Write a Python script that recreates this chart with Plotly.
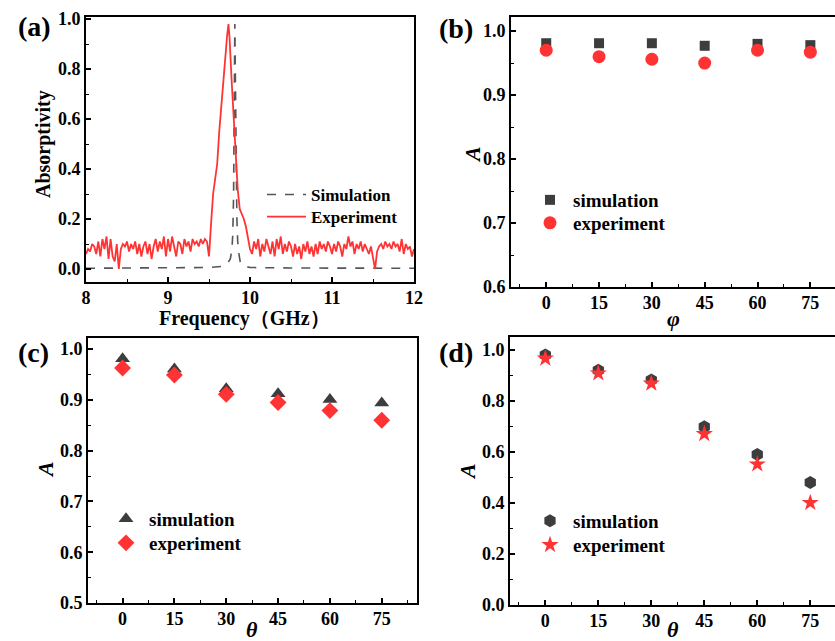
import numpy as np
import plotly.graph_objects as go

W, H = 835, 641
FONT = "Liberation Serif"
GRAY = "#3d3d3d"
RED = "#ff3333"

# ---------------- (a) spectra ----------------
sim_freq = [8.0, 9.0, 9.5, 9.65, 9.72, 9.76, 9.78, 9.79, 9.80, 9.805, 9.81, 9.815,
            9.82, 9.825, 9.83, 9.84, 9.85, 9.86, 9.88, 9.92, 10.0, 10.5, 12.0]
sim_abs = [0.003, 0.004, 0.006, 0.01, 0.02, 0.04, 0.08, 0.14, 0.30, 0.55, 0.90, 0.98,
           0.82, 0.58, 0.40, 0.20, 0.11, 0.07, 0.03, 0.012, 0.006, 0.004, 0.003]

exp_abs_low = [0.06, 0.08, 0.07, 0.10, 0.09, 0.06, 0.11, 0.05, 0.12, 0.08,
               0.13, 0.04, 0.12, 0.05, 0.03, 0.10, 0.00, 0.08, 0.10, 0.09,
               0.11, 0.07, 0.10, 0.08, 0.11, 0.06, 0.10, 0.05, 0.09, 0.11,
               0.06, 0.10, 0.04, 0.09, 0.12, 0.07, 0.11, 0.08, 0.13, 0.05,
               0.12, 0.07, 0.13, 0.09, 0.05, 0.11, 0.10, 0.06, 0.12, 0.09,
               0.11, 0.07, 0.12, 0.10, 0.11, 0.09, 0.12, 0.10, 0.12, 0.11,
               0.05]
exp_freq_peak = [9.525, 9.55, 9.575, 9.60, 9.625, 9.65, 9.675, 9.70, 9.72, 9.737,
                 9.75, 9.775, 9.80, 9.825, 9.85, 9.875, 9.90, 9.925, 9.95, 9.975,
                 10.0, 10.025]
exp_abs_peak = [0.18, 0.30, 0.36, 0.42, 0.55, 0.66, 0.76, 0.86, 0.93, 0.98,
                0.93, 0.76, 0.60, 0.46, 0.32, 0.24, 0.22, 0.20, 0.17, 0.12,
                0.08, 0.06]
exp_abs_high = [0.11, 0.08, 0.12, 0.05, 0.10, 0.07, 0.12, 0.09, 0.06, 0.11,
                0.05, 0.12, 0.08, 0.13, 0.06, 0.10, 0.07, 0.11, 0.09, 0.05,
                0.10, 0.06, 0.09, 0.04, 0.10, 0.07, 0.11, 0.06, 0.09, 0.05,
                0.10, 0.06, 0.11, 0.08, 0.10, 0.07, 0.11, 0.09,
                0.06, 0.10, 0.07, 0.11, 0.09, 0.05, 0.10, 0.08, 0.13, 0.09,
                0.11, 0.06, 0.10, 0.08, 0.11, 0.07, 0.10, 0.08, 0.06, 0.09,
                0.04, 0.00, 0.07, 0.09, 0.10, 0.08, 0.11, 0.09, 0.10, 0.08,
                0.11, 0.09, 0.10, 0.07, 0.12, 0.06, 0.10, 0.08, 0.09, 0.05,
                0.08]
freq_low = np.round(8.0 + 0.025 * np.arange(len(exp_abs_low)), 3)
freq_high = np.round(10.05 + 0.025 * np.arange(len(exp_abs_high)), 3)
exp_freq = list(freq_low) + exp_freq_peak + list(freq_high)
exp_abs = exp_abs_low + exp_abs_peak + exp_abs_high

# ---------------- (b)(c)(d) angles ----------------
angles = [0, 15, 30, 45, 60, 75]
angle_ticks = ["0", "15", "30", "45", "60", "75"]
b_sim = [0.981, 0.981, 0.981, 0.977, 0.980, 0.978]
b_exp = [0.970, 0.960, 0.956, 0.950, 0.970, 0.967]
c_sim = [0.981, 0.961, 0.922, 0.912, 0.901, 0.894]
c_exp = [0.963, 0.949, 0.911, 0.895, 0.879, 0.860]
d_sim = [0.980, 0.921, 0.882, 0.699, 0.590, 0.480]
d_exp = [0.967, 0.909, 0.869, 0.671, 0.552, 0.401]


def xd(a, b):
    return [a / W, min(b / W, 1.0)]


def yd(top, bottom):
    return [1 - bottom / H, 1 - top / H]


fig = go.Figure()

fig.add_trace(go.Scatter(x=sim_freq, y=sim_abs, mode="lines", name="Simulation",
                         line=dict(color="#555555", width=1.6, dash="dash"),
                         xaxis="x", yaxis="y", legend="legend"))
fig.add_trace(go.Scatter(x=exp_freq, y=exp_abs, mode="lines", name="Experiment",
                         line=dict(color=RED, width=1.8),
                         xaxis="x", yaxis="y", legend="legend2"))

fig.add_trace(go.Scatter(x=angles, y=b_sim, mode="markers", name="simulation",
                         marker=dict(symbol="square", size=10, color=GRAY),
                         xaxis="x2", yaxis="y2", legend="legend3"))
fig.add_trace(go.Scatter(x=angles, y=b_exp, mode="markers", name="experiment",
                         marker=dict(symbol="circle", size=13, color=RED),
                         xaxis="x2", yaxis="y2", legend="legend4"))

fig.add_trace(go.Scatter(x=angles, y=c_sim, mode="markers", name="simulation",
                         marker=dict(symbol="triangle-up", size=13, color=GRAY),
                         xaxis="x3", yaxis="y3", legend="legend5"))
fig.add_trace(go.Scatter(x=angles, y=c_exp, mode="markers", name="experiment",
                         marker=dict(symbol="diamond", size=13, color=RED),
                         xaxis="x3", yaxis="y3", legend="legend6"))

fig.add_trace(go.Scatter(x=angles, y=d_sim, mode="markers", name="simulation",
                         marker=dict(symbol="hexagon", size=13, color=GRAY),
                         xaxis="x4", yaxis="y4", legend="legend7"))
fig.add_trace(go.Scatter(x=angles, y=d_exp, mode="markers", name="experiment",
                         marker=dict(symbol="star", size=13, color=RED),
                         xaxis="x4", yaxis="y4", legend="legend8"))

tickfont = dict(family=FONT, size=18, color="black", weight="bold")


def xaxis(domain, rng, anchor, dtick, minor, tickvals=None, ticktext=None):
    d = dict(domain=domain, range=rng, anchor=anchor, showline=True, linecolor="black",
             linewidth=2, mirror=True, ticks="inside", ticklen=5, tickwidth=1.5,
             tickcolor="black", showgrid=False, zeroline=False, tickfont=tickfont,
             automargin=False, ticklabelstandoff=-2,
             minor=dict(ticks="inside", ticklen=3, dtick=minor, tickcolor="black",
                        tickwidth=1.2, showgrid=False))
    if tickvals is not None:
        d.update(tickmode="array", tickvals=tickvals, ticktext=ticktext)
        d["minor"].update(tick0=0)
    else:
        d.update(dtick=dtick, tick0=0)
    return d


def yaxis(domain, rng, anchor, dtick, minor, mirror=True):
    return dict(domain=domain, range=rng, anchor=anchor, showline=True, linecolor="black",
                linewidth=2, mirror=mirror, ticks="inside", ticklen=5, tickwidth=1.5,
                tickcolor="black", showgrid=False, zeroline=False, tickfont=tickfont,
                dtick=dtick, tick0=0, tickformat=".1f", automargin=False,
                minor=dict(ticks="inside", ticklen=3, dtick=minor, tickcolor="black",
                           tickwidth=1.2, showgrid=False))


fig.update_layout(
    template="none",
    width=W, height=H,
    margin=dict(l=0, r=0, t=0, b=0, pad=0, autoexpand=False),
    paper_bgcolor="white", plot_bgcolor="white",
    font=dict(family=FONT, color="black"),
    xaxis=xaxis(xd(86, 414), [8, 12], "y", 1, 0.5),
    yaxis=yaxis(yd(17, 282), [-0.052, 1.008], "x", 0.2, 0.1),
    xaxis2=xaxis(xd(511, 835), [-10, 82], "y2", 15, 7.5, angles, angle_ticks),
    yaxis2=yaxis(yd(17, 287), [0.6, 1.022], "x2", 0.1, 0.05, mirror=False),
    xaxis3=xaxis(xd(88, 417), [-10, 85.2], "y3", 15, 7.5, angles, angle_ticks),
    yaxis3=yaxis(yd(338, 603), [0.5, 1.022], "x3", 0.1, 0.05),
    xaxis4=xaxis(xd(510, 835), [-10, 82], "y4", 15, 7.5, angles, angle_ticks),
    yaxis4=yaxis(yd(337, 605), [0.0, 1.051], "x4", 0.2, 0.1, mirror=False),
    showlegend=True,
)

legfont_a = dict(family=FONT, size=17, color="black", weight="bold")
legfont = dict(family=FONT, size=19, color="black", weight="bold")


def leg(x, yc, font, itemwidth):
    return dict(x=x / W, y=1 - yc / H, xanchor="left", yanchor="middle",
                bgcolor="rgba(0,0,0,0)", font=font, itemwidth=itemwidth,
                borderwidth=0)


fig.update_layout(
    legend=leg(262, 195, legfont_a, 39),
    legend2=leg(262, 217, legfont_a, 39),
    legend3=leg(527, 200, legfont, 36),
    legend4=leg(527, 223, legfont, 36),
    legend5=leg(103, 519, legfont, 36),
    legend6=leg(103, 543, legfont, 36),
    legend7=leg(527, 521, legfont, 36),
    legend8=leg(527, 545, legfont, 36),
)

ann = []


def label(text, x, y, size, angle=0, style="normal", weight="bold"):
    ann.append(dict(text=text, x=x / W, y=1 - y / H, xref="paper", yref="paper",
                    showarrow=False, textangle=angle, xanchor="center", yanchor="middle",
                    font=dict(family=FONT, size=size, color="black", style=style,
                              weight=weight)))


label("(a)", 34, 27, 28)
label("(b)", 456, 29, 28)
label("(c)", 33, 352, 28)
label("(d)", 456, 352, 28)
label("Absorptivity", 43, 144, 20, angle=-90)
label("Frequency（GHz）", 245, 318, 20)
label("A", 473, 155, 22, angle=-90, style="italic")
label("A", 45, 470, 22, angle=-90, style="italic")
label("A", 467, 472, 22, angle=-90, style="italic")
label("φ", 673, 318, 22, style="italic")
label("θ", 252, 629, 22, style="italic")
label("θ", 673, 629, 22, style="italic")
fig.update_layout(annotations=ann)

fig.write_html("out.html", config={"displayModeBar": False},
               post_script="document.body.style.margin='0';document.body.style.overflow='hidden';")
